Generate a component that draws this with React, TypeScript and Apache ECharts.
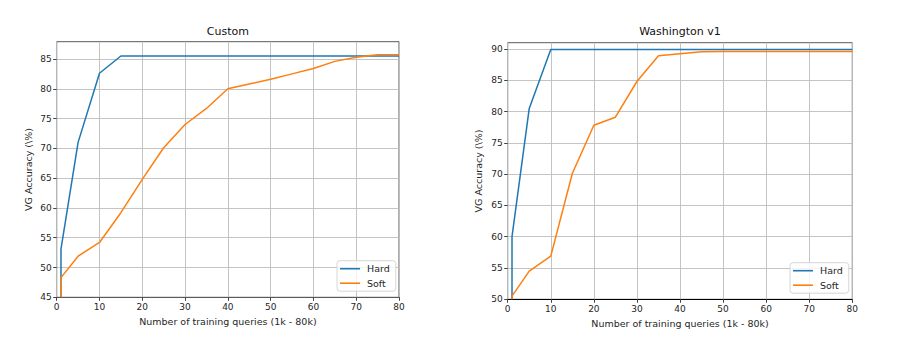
import React, { useEffect, useRef } from "react";
import * as echarts from "echarts";

const queries = [1, 5, 10, 15, 20, 25, 30, 35, 40, 45, 50, 55, 60, 65, 70, 75, 80];
const customHard = [53.1, 71.0, 82.6, 85.5, 85.5, 85.5, 85.5, 85.5, 85.5, 85.5, 85.5, 85.5, 85.5, 85.5, 85.5, 85.5, 85.5];
const customSoft = [48.3, 51.9, 54.2, 59.2, 64.8, 70.1, 74.0, 76.7, 80.0, 80.8, 81.6, 82.5, 83.4, 84.6, 85.3, 85.7, 85.7];
const washHard = [60.0, 80.5, 89.9, 89.9, 89.9, 89.9, 89.9, 89.9, 89.9, 89.9, 89.9, 89.9, 89.9, 89.9, 89.9, 89.9, 89.9];
const washSoft = [50.5, 54.5, 56.9, 70.1, 77.8, 79.1, 84.8, 88.9, 89.25, 89.55, 89.6, 89.6, 89.6, 89.6, 89.6, 89.6, 89.6];
// value at x=1 where the curves rise from the bottom of each plot
const customStart = 45;
const washStart = 50;

const xTicks = [0, 10, 20, 30, 40, 50, 60, 70, 80];
const customYTicks = [45, 50, 55, 60, 65, 70, 75, 80, 85];
const washYTicks = [50, 55, 60, 65, 70, 75, 80, 85, 90];

const titles = ["Custom", "Washington v1"];
const xName = "Number of training queries (1k - 80k)";
const yName = "VG Accuracy (\\%)";
const names = ["Hard", "Soft"];

const FONT = "DejaVu Sans";
const BLUE = "#1f77b4";
const ORANGE = "#ff7f0e";
const TXT = "#262626";

function pts(vals: number[], start: number) {
  return [[queries[0], start], ...queries.map((q, i) => [q, vals[i]])];
}

export default function App() {
  const ref = useRef<HTMLDivElement>(null);
  useEffect(() => {
    if (!ref.current) return;
    const chart = echarts.init(ref.current, undefined, { renderer: "svg" });
    const grids = [
      { left: 56.7, top: 41.7, width: 342.3, height: 255.6 },
      { left: 507.7, top: 42.7, width: 344.6, height: 256.6 },
    ];
    const yRanges = [
      { min: 45, max: 87.9, ticks: customYTicks },
      { min: 50, max: 91.0, ticks: washYTicks },
    ];
    const option: any = {
      animation: false,
      backgroundColor: "#fff",
      grid: grids.map((g) => ({
        ...g,
        show: true,
        borderColor: "#5a5a5a",
        borderWidth: 1,
        backgroundColor: "transparent",
        containLabel: false,
      })),
      xAxis: [0, 1].map((i) => ({
        type: "value",
        gridIndex: i,
        min: 0,
        max: 80,
        interval: 10,
        name: xName,
        nameLocation: "middle",
        nameGap: 19,
        nameTextStyle: { fontFamily: FONT, fontSize: 9.5, color: TXT },
        axisLine: { show: true, lineStyle: { color: i === 0 ? "#5a5a5a" : "#000", width: 1 } },
        axisTick: { show: true, length: 3.5, lineStyle: { color: "#444" }, customValues: xTicks },
        axisLabel: { fontFamily: FONT, fontSize: 9, color: TXT, margin: 5, customValues: xTicks },
        splitLine: { show: true, lineStyle: { color: "#bdbdbd", width: 0.9 } },
      })),
      yAxis: [0, 1].map((i) => ({
        type: "value",
        gridIndex: i,
        min: yRanges[i].min,
        max: yRanges[i].max,
        interval: 5,
        name: yName,
        nameLocation: "middle",
        nameGap: i === 0 ? 23 : 24,
        nameRotate: 90,
        nameTextStyle: { fontFamily: FONT, fontSize: 9.5, color: TXT },
        axisLine: { show: false },
        axisTick: { show: true, length: 3.5, lineStyle: { color: "#444" }, customValues: yRanges[i].ticks },
        axisLabel: { fontFamily: FONT, fontSize: 9, color: TXT, margin: 5, customValues: yRanges[i].ticks },
        splitLine: { show: true, lineStyle: { color: "#bdbdbd", width: 0.9 } },
      })),
      legend: [
        { left: 337, top: 260.7 },
        { left: 790, top: 262.7 },
      ].map((p) => ({
        ...p,
        orient: "vertical",
        data: names,
        icon: "rect",
        itemWidth: 20,
        itemHeight: 1.6,
        itemGap: 4.5,
        padding: [3, 6, 3, 3],
        backgroundColor: "rgba(255,255,255,0.8)",
        borderColor: "#d6d6d6",
        borderWidth: 1,
        borderRadius: 3,
        selectedMode: false,
        textStyle: { fontFamily: FONT, fontSize: 9.5, color: TXT, lineHeight: 10, padding: [0, 0, 0, 2] },
      })),
      graphic: [
        {
          type: "text",
          x: grids[0].left + grids[0].width / 2,
          y: 31,
          style: { text: titles[0], align: "center", verticalAlign: "middle", fontFamily: FONT, fontSize: 11, fill: "#111" },
        },
        {
          type: "text",
          x: grids[1].left + grids[1].width / 2,
          y: 31.7,
          style: { text: titles[1], align: "center", verticalAlign: "middle", fontFamily: FONT, fontSize: 11, fill: "#111" },
        },
      ],
      series: [
        { name: names[0], data: pts(customHard, customStart), color: BLUE, xAxisIndex: 0, yAxisIndex: 0 },
        { name: names[1], data: pts(customSoft, customStart), color: ORANGE, xAxisIndex: 0, yAxisIndex: 0 },
        { name: names[0], data: pts(washHard, washStart), color: BLUE, xAxisIndex: 1, yAxisIndex: 1 },
        { name: names[1], data: pts(washSoft, washStart), color: ORANGE, xAxisIndex: 1, yAxisIndex: 1 },
      ].map((s) => ({
        ...s,
        type: "line",
        symbol: "none",
        clip: true,
        lineStyle: { width: 1.5, color: s.color },
        itemStyle: { color: s.color },
      })),
    };
    chart.setOption(option);
    return () => chart.dispose();
  }, []);
  return (
    <div
      ref={ref}
      style={{ position: "absolute", left: 0, top: 0, width: 900, height: 341 }}
    />
  );
}
